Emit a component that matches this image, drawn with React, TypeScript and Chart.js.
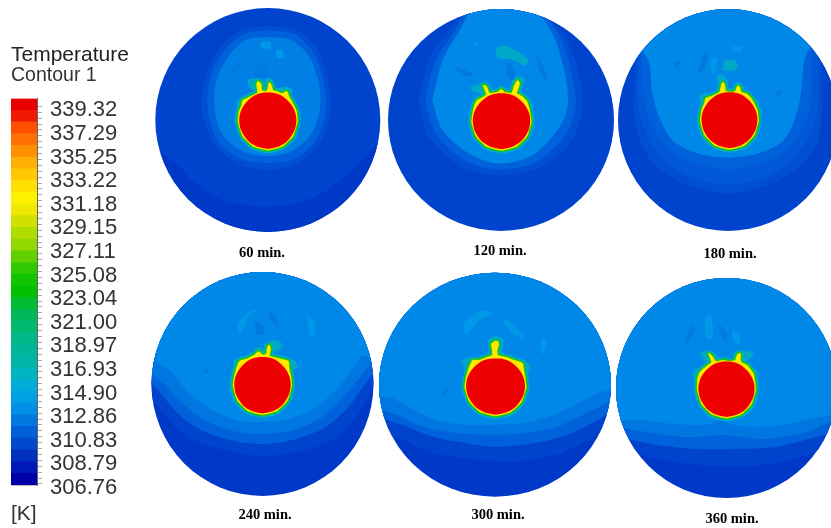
import React, { useEffect, useRef } from "react";
import { Chart, registerables } from "chart.js";

Chart.register(...registerables);

type P = [number, number];

// ---------- colour scale ----------
const tickLabels = ["339.32","337.29","335.25","333.22","331.18","329.15","327.11","325.08","323.04","321.00","318.97","316.93","314.90","312.86","310.83","308.79","306.76"];
const bandEdges = [306.67,307.68,308.69,309.70,310.71,311.72,312.73,313.74,314.75,315.76,316.77,317.78,318.79,319.80,320.81,321.82,322.83,323.84,324.85,325.86,326.87,327.88,328.89,329.90,330.91,331.92,332.93,333.94,334.95,335.96,336.97,337.98,338.99,340.00];
const bandColors = ["#0000a8","#0018b8","#0030c0","#0048cc","#0060d8","#0078e0","#0090e8","#00a0e4","#00acd8","#00b4c0","#00b4a8","#00b698","#00b888","#00b870","#00b85c","#00bc30","#00c000","#10c400","#30c800","#60d000","#90d800","#b0dc00","#d0e000","#f0e800","#fff000","#ffe000","#ffc800","#ffb000","#ff9000","#ff7000","#ff5000","#f01800","#e80000"];

// ---------- field colours ----------
const cDeep = "#0038c8", cBase = "#0044ce", cL1 = "#004ed2", cL2 = "#0062da", cL3 = "#0076e0", cL4 = "#0088e8";
const cWispD = "#007ae0", cWispL = "#0098e8", cTeal = "#00a8c8";

// ---------- whole disc ----------
const fieldSquare: P[] = [[-130,-130],[130,-130],[130,130],[-130,130]];

// ---------- 60 min ----------
const p1Deep: P[] = [[-125,33],[-107,33],[-92,43],[-72,63],[-49,78],[-22,85],[1,87],[28,83],[54,73],[81,53],[101,33],[111,22],[125,22],[125,125],[-125,125]];
const p1Ring1: P[] = [[-1,-94],[28,-90],[48,-73],[59,-43],[63,-13],[54,20],[31,43],[1,50],[-32,43],[-56,20],[-66,-13],[-62,-43],[-47,-73],[-26,-90]];
const p1Ring2: P[] = [[-1,-90],[26,-86],[44,-70],[55,-42],[58,-13],[50,17],[28,38],[1,43],[-30,38],[-52,17],[-60,-13],[-57,-43],[-43,-70],[-24,-86]];
const p1Ring3: P[] = [[0,-83],[23,-80],[40,-65],[50,-40],[52,-13],[44,13],[24,31],[0,36],[-26,31],[-46,13],[-53,-13],[-51,-40],[-38,-65],[-22,-80]];
const p1WispsD: P[][] = [[[-14,-48],[-6,-56],[0,-52],[-2,-44],[-10,-42]],[[-38,-50],[-30,-58],[-28,-55],[-36,-46]],[[17,-28],[24,-26],[24,-22],[18,-24]]];
const p1WispsL: P[][] = [[[-7,-78],[2,-78],[3,-72],[-6,-72]],[[8,-70],[14,-70],[16,-62],[10,-62]]];
const p1Blobs: P[][] = [[[-20,-41],[-16,-42],[-11,-41],[-10,-34],[-14,-30],[-19,-34]],[[-3,-42],[3,-42],[4,-36],[0,-32],[-3,-36]],[[8,-31],[18,-34],[25,-30],[21,-26],[12,-28]],[[-31,-19],[-26,-23],[-24,-16],[-30,-11]]];
const p1Hot: P[] = [[-28.5,-9],[-26,-15],[-25,-20],[-19,-23],[-13,-26],[-10,-28],[-11,-36],[-10,-39],[-7,-37],[-6,-30],[-2,-29],[0,-31],[1,-37],[2,-38],[4,-34],[5,-30],[9,-29],[14,-27],[19,-29],[21,-24],[26,-15],[28.5,-9]];

// ---------- 120 min ----------
const p2Ring1: P[] = [[-82,-20],[-72,-60],[-52,-90],[-36,-107],[0,-125],[41,-107],[64,-83],[78,-43],[81,-13],[71,20],[41,47],[0,56],[-39,47],[-72,17]];
const p2Ring2: P[] = [[-75,-20],[-65,-60],[-46,-90],[-32,-110],[0,-125],[38,-110],[58,-85],[71,-43],[74,-13],[64,15],[37,41],[0,50],[-35,41],[-65,13]];
const p2Ring3: P[] = [[-68,-20],[-58,-60],[-40,-92],[-26,-115],[0,-125],[30,-115],[52,-85],[64,-43],[66,-13],[56,10],[32,35],[0,44],[-30,35],[-58,10]];
const p2WispsD: P[][] = [[[-44,-54],[-34,-50],[-28,-46],[-34,-44],[-44,-50]],[[8,-60],[14,-48],[12,-38],[6,-46]],[[34,-70],[44,-50],[46,-38],[38,-50]]];
const p2WispsL: P[][] = [[[-26,-80],[-22,-78],[-26,-74]]];
const p2Blobs: P[][] = [[[-32,-34],[-22,-37],[-14,-35],[-14,-28],[-27,-29]],[[9,-37],[14,-44],[22,-44],[22,-38],[16,-29]],[[22,-24],[29,-22],[29,-13],[24,-13]],[[-6,-74],[4,-76],[16,-70],[26,-62],[24,-56],[10,-62],[-4,-64]]];
const p2Hot: P[] = [[-27,-15],[-24,-21],[-18,-24],[-15,-27],[-17,-33],[-18,-36],[-15,-35],[-12,-28],[-4,-29],[0,-32],[3,-29],[10,-28],[13,-36],[16,-41],[18,-38],[15,-28],[20,-25],[25,-20],[27.5,-12]];

// ---------- 180 min ----------
const p3Ring0: P[] = [[-125,-125],[-96,-70],[-95,-40],[-96,-10],[-90,20],[-72,48],[-40,66],[0,74],[40,66],[72,48],[92,20],[96,-15],[96,-50],[92,-80],[125,-125]];
const p3Ring1: P[] = [[-125,-125],[-93,-70],[-92,-45],[-92,-15],[-84,12],[-68,37],[-38,58],[0,65],[38,58],[68,37],[85,12],[92,-15],[93,-50],[90,-75],[125,-125]];
const p3Ring2: P[] = [[-125,-125],[-90,-70],[-88,-50],[-85,-20],[-77,5],[-62,28],[-35,43],[0,50],[35,43],[62,28],[78,3],[85,-20],[85,-55],[87,-75],[125,-125]];
const p3Ring3: P[] = [[-125,-125],[-87,-70],[-80,-57],[-77,-27],[-70,-3],[-57,20],[-33,33],[0,38],[33,33],[57,20],[70,-7],[75,-33],[77,-57],[83,-72],[125,-125]];
const p3WispsD: P[][] = [[[-56,-58],[-48,-60],[-52,-52]],[[48,-28],[56,-30],[52,-24]],[[-24,-70],[-20,-64],[-28,-46],[-30,-50]]];
const p3WispsL: P[][] = [[[-18,-62],[-12,-62],[-12,-50],[-16,-48]],[[4,-74],[14,-74],[14,-70],[6,-70]]];
const p3Blobs: P[][] = [[[-13,-45],[-6,-45],[-3,-38],[-4,-30],[-11,-34]],[[5,-35],[12,-37],[15,-30],[8,-28]],[[-31,-25],[-24,-27],[-20,-22],[-29,-17]],[[20,-24],[29,-20],[29,-13],[24,-15]],[[-6,-60],[6,-60],[8,-52],[-6,-50]]];
const p3Hot: P[] = [[-28,-10],[-25,-18],[-24,-22],[-18,-24],[-10,-28],[-8,-36],[-7,-38],[-5,-36],[-4,-29],[2,-28],[6,-29],[8,-34],[10,-34],[12,-28],[18,-26],[22,-22],[26,-15],[28.5,-9]];

// ---------- 240 min ----------
const p4Ring1: P[] = [[-125,-125],[-125,-8],[-112,0],[-102,10],[-85,30],[-60,47],[-28,57],[0,60],[30,56],[62,44],[85,25],[100,5],[112,-10],[125,-20],[125,-125]];
const p4Ring0: P[] = [[-125,-125],[-125,15],[-113,15],[-100,30],[-80,50],[-50,63],[0,72],[50,64],[80,50],[100,25],[113,0],[125,0],[125,-125]];
const p4Ring2: P[] = [[-125,-125],[-125,-18],[-112,-10],[-100,0],[-80,20],[-55,38],[-25,48],[0,50],[27,47],[57,35],[80,15],[97,-5],[110,-20],[125,-26],[125,-125]];
const p4Ring3: P[] = [[-125,-125],[-125,-28],[-109,-23],[-93,-13],[-73,10],[-49,27],[-23,37],[1,38],[27,35],[54,23],[77,3],[94,-20],[101,-28],[110,-27],[125,-30],[125,-125]];
const p4WispsD: P[][] = [[[-8,-62],[0,-60],[2,-50],[-6,-50]],[[8,-74],[16,-62],[14,-58],[6,-68]],[[-60,-14],[-54,-16],[-56,-10]]];
const p4WispsL: P[][] = [[[-26,-60],[-14,-72],[-6,-74],[-16,-64],[-22,-50]],[[44,-72],[52,-60],[50,-44],[46,-60]]];
const p4Blobs: P[][] = [[[3,-41],[12,-45],[21,-40],[16,-34],[8,-34]],[[-8,-37],[0,-37],[2,-32],[-8,-30]],[[22,-28],[33,-24],[35,-17],[26,-17]],[[-29,-25],[-22,-27],[-20,-22],[-29,-15]]];
const p4Hot: P[] = [[-28,-10],[-25,-20],[-23,-24],[-16,-26],[-8,-30],[-5,-33],[-3,-33],[0,-30],[4,-31],[5,-38],[7,-40],[8,-36],[7,-29],[14,-27],[22,-25],[26,-24],[27,-15],[28.5,-9]];

// ---------- 300 min ----------
const p5Ring0: P[] = [[-125,-125],[-125,45],[-116,45],[-90,55],[-60,68],[-20,75],[20,77],[60,70],[90,55],[116,40],[125,38],[125,-125]];
const p5Ring1: P[] = [[-125,-125],[-125,32],[-116,32],[-90,40],[-60,52],[-30,58],[0,62],[40,58],[70,50],[100,35],[116,25],[125,24],[125,-125]];
const p5Ring2: P[] = [[-125,-125],[-125,25],[-116,25],[-95,30],[-70,42],[-40,48],[0,50],[30,48],[60,42],[85,30],[116,15],[125,14],[125,-125]];
const p5Ring3: P[] = [[-125,-125],[-125,12],[-115,12],[-100,13],[-83,23],[-57,35],[-30,40],[-2,40],[27,38],[57,30],[83,17],[103,7],[116,5],[125,4],[125,-125]];
const p5WispsD: P[][] = [[[-52,8],[-46,2],[-44,4],[-50,12]]];
const p5WispsL: P[][] = [[[-30,-62],[-14,-74],[-2,-72],[-16,-64],[-28,-50]],[[6,-68],[20,-58],[28,-46],[16,-52]],[[46,-48],[50,-44],[46,-30],[44,-36]]];
const p5Blobs: P[][] = [[[-7,-47],[0,-50],[7,-47],[7,-38],[4,-32],[-4,-32],[-7,-38]],[[-33,-26],[-24,-29],[-18,-24],[-29,-18]],[[22,-27],[33,-22],[31,-13],[24,-15]]];
const p5Hot: P[] = [[-28,-10],[-25,-20],[-22,-26],[-16,-26],[-8,-29],[-3,-31],[-3,-37],[-4,-42],[-1,-45],[2,-45],[3,-42],[1.5,-36],[2,-31],[10,-29],[18,-26],[26,-23],[27,-17],[28.5,-9]];

// ---------- 360 min ----------
const p6Ring0: P[] = [[-125,-125],[-125,58],[-110,60],[-70,72],[-30,78],[10,80],[50,76],[90,65],[115,52],[125,50],[125,-125]];
const p6Ring1: P[] = [[-125,-125],[-125,48],[-110,50],[-70,58],[-30,62],[10,62],[50,60],[90,50],[115,42],[125,40],[125,-125]];
const p6Ring2: P[] = [[-125,-125],[-125,38],[-110,40],[-80,45],[-40,50],[0,48],[40,52],[80,45],[110,33],[125,32],[125,-125]];
const p6Ring3: P[] = [[-125,-125],[-125,33],[-107,33],[-83,33],[-50,37],[-17,37],[-7,33],[3,37],[33,40],[70,35],[97,29],[115,27],[125,26],[125,-125]];
const p6WispsD: P[][] = [[[-8,-66],[0,-56],[0,-46],[-6,-54]],[[-36,-64],[-32,-60],[-40,-44],[-42,-48]]];
const p6WispsL: P[][] = [[[-22,-70],[-16,-74],[-14,-52],[-20,-50]],[[6,-60],[14,-52],[12,-44],[6,-50]]];
const p6Blobs: P[][] = [[[-27,-37],[-16,-39],[-11,-34],[-14,-27],[-23,-30]],[[9,-37],[16,-39],[27,-37],[23,-30],[14,-28]],[[-35,-16],[-28,-21],[-24,-16],[-31,-9]],[[22,-24],[31,-18],[29,-9],[24,-13]]];
const p6Hot: P[] = [[-29,-12],[-26,-18],[-19,-24],[-15,-27],[-17,-33],[-18,-36],[-15,-34],[-11,-28],[-3,-29],[3,-28],[9,-29],[11,-35],[14,-36],[14,-31],[15,-27],[21,-24],[27,-16],[28.5,-9]];

// ---------- shared heater outline ----------
const hotLower: P[] = [[29.5,1],[25,15.5],[15,25.5],[0,29.5],[-15,25.5],[-25,15.5],[-29.5,1]];
const redCore: P[] = [[0,28.5],[-11,26],[-20,20],[-26.5,10],[-28.5,0],[-27,-9],[-22.5,-17],[-15,-24],[-6,-27.5],[6,-27.5],[15,-24],[22.5,-17],[27,-9],[28.5,0],[26.5,10],[20,20],[11,26]];

const captions = ["60 min.","120 min.","180 min.","240 min.","300 min.","360 min."];

type Layer = { pts: P[]; color: string; width?: number; tension?: number };
type Panel = { cx: number; cy: number; rx: number; ry: number; capX: number; capY: number; sx: number; sy: number;
  back: string; rings: [P[], string][]; wD: P[][]; wL: P[][]; blobs: P[][]; hot: P[] };

const panels: Panel[] = [
  { cx: 267.5, cy: 120, rx: 112.5, ry: 112, capX: 261.7, capY: 253, sx: 0, sy: 0.5, back: cBase,
    rings: [[p1Deep, cDeep],[p1Ring1, cL1],[p1Ring2, cL2],[p1Ring3, "#0080e4"]], wD: p1WispsD, wL: p1WispsL, blobs: p1Blobs, hot: p1Hot },
  { cx: 501, cy: 120, rx: 113, ry: 111, capX: 500, capY: 251, sx: 0.5, sy: 1, back: cBase,
    rings: [[p2Ring1, cL1],[p2Ring2, cL2],[p2Ring3, cL4]], wD: p2WispsD, wL: p2WispsL, blobs: p2Blobs, hot: p2Hot },
  { cx: 728, cy: 120, rx: 110, ry: 111, capX: 730, capY: 254, sx: 1.5, sy: 0, back: cBase,
    rings: [[p3Ring0, cL1],[p3Ring1, "#0058d6"],[p3Ring2, cL2],[p3Ring3, cL4]], wD: p3WispsD, wL: p3WispsL, blobs: p3Blobs, hot: p3Hot },
  { cx: 262.5, cy: 384, rx: 111, ry: 112, capX: 265, capY: 515, sx: 0, sy: 1, back: cDeep,
    rings: [[p4Ring0, cBase],[p4Ring1, cL2],[p4Ring2, cL3],[p4Ring3, cL4]], wD: p4WispsD, wL: p4WispsL, blobs: p4Blobs, hot: p4Hot },
  { cx: 495, cy: 384.5, rx: 116, ry: 112, capX: 498, capY: 515, sx: 0.5, sy: 1.5, back: cDeep,
    rings: [[p5Ring0, cBase],[p5Ring1, cL2],[p5Ring2, cL3],[p5Ring3, cL4]], wD: p5WispsD, wL: p5WispsL, blobs: p5Blobs, hot: p5Hot },
  { cx: 726.5, cy: 388, rx: 110.5, ry: 110, capX: 732, capY: 519, sx: 0, sy: 1, back: cDeep,
    rings: [[p6Ring0, cBase],[p6Ring1, cL2],[p6Ring2, cL3],[p6Ring3, cL4]], wD: p6WispsD, wL: p6WispsL, blobs: p6Blobs, hot: p6Hot },
];

const PANEL_W = 250;
const CAP_H = 14;

function toData(pts: P[], dx = 0, dy = 0) {
  const d = pts.map(([x, y]) => ({ x: x + dx, y: y + dy }));
  d.push({ ...d[0] });
  return d;
}

function layerDataset(l: Layer, order: number, dx = 0, dy = 0) {
  return {
    type: "scatter" as const,
    data: toData(l.pts, dx, dy),
    showLine: true,
    fill: "shape",
    backgroundColor: l.color,
    borderColor: l.width ? l.color : "transparent",
    borderWidth: l.width ?? 0,
    borderJoinStyle: "round" as const,
    pointRadius: 0,
    tension: l.tension ?? 0.3,
    order,
  };
}

function panelLayers(p: Panel) {
  const out: { l: Layer; dx: number; dy: number }[] = [];
  const add = (l: Layer, dx = 0, dy = 0) => out.push({ l, dx, dy });
  add({ pts: fieldSquare, color: p.back, tension: 0 });
  p.rings.forEach(([pts, color]) => add({ pts, color }));
  p.wD.forEach((pts) => add({ pts, color: cWispD }));
  p.wL.forEach((pts) => add({ pts, color: cWispL }));
  p.blobs.forEach((pts) => add({ pts, color: cTeal }, p.sx, p.sy));
  const hot = [...hotLower, ...p.hot];
  add({ pts: hot, color: "#00a8d8", width: 7, tension: 0.15 }, p.sx, p.sy);
  add({ pts: hot, color: "#00b880", width: 5, tension: 0.15 }, p.sx, p.sy);
  add({ pts: hot, color: "#20c400", width: 3, tension: 0.15 }, p.sx, p.sy);
  add({ pts: hot, color: "#c8dc00", width: 1, tension: 0.15 }, p.sx, p.sy);
  add({ pts: hot, color: "#ffe800", tension: 0.15 }, p.sx, p.sy);
  add({ pts: redCore, color: "#ee0000", tension: 0.3 }, p.sx, p.sy);
  return out;
}

function DiscPanel({ index }: { index: number }) {
  const ref = useRef<HTMLCanvasElement>(null);
  const p = panels[index];
  const left = p.capX - PANEL_W / 2;
  const top = p.cy - p.ry - 4;
  const height = p.capY + CAP_H / 2 - top;
  useEffect(() => {
    const kx = p.rx / 112;
    const ky = p.ry / 112;
    const layers = panelLayers(p);
    const n = layers.length;
    const clipDisc = {
      id: "clipDisc",
      beforeDatasetsDraw(chart: any) {
        const { ctx, scales } = chart;
        ctx.save();
        ctx.beginPath();
        ctx.ellipse(scales.x.getPixelForValue(0), scales.y.getPixelForValue(0), p.rx, p.ry, 0, 0, Math.PI * 2);
        ctx.clip();
      },
      afterDatasetsDraw(chart: any) {
        chart.ctx.restore();
      },
    };
    const chart = new Chart(ref.current!, {
      type: "scatter",
      data: { datasets: layers.map((e, i) => layerDataset(e.l, n - i, e.dx, e.dy)) as any },
      options: {
        animation: false,
        responsive: false,
        devicePixelRatio: 1,
        events: [],
        layout: { padding: 0 },
        scales: {
          x: { type: "linear", display: false, min: (left - p.cx) / kx, max: (left + PANEL_W - p.cx) / kx },
          y: { type: "linear", display: false, reverse: true, min: (top - p.cy) / ky, max: (p.capY - CAP_H / 2 - p.cy) / ky },
        },
        plugins: {
          legend: { display: false },
          tooltip: { enabled: false },
          title: {
            display: true,
            position: "bottom",
            text: captions[index],
            color: "#000",
            padding: 0,
            font: { family: "'Liberation Serif', serif", weight: "bold", size: 14.5, lineHeight: CAP_H / 14.5 },
          },
        },
      } as any,
      plugins: [clipDisc as any],
    });
    return () => chart.destroy();
  }, []);
  return (
    <canvas
      ref={ref}
      width={PANEL_W}
      height={height}
      style={{ position: "absolute", left, top, width: PANEL_W, height, filter: "blur(0.7px)" }}
    />
  );
}

function ColorBar() {
  const ref = useRef<HTMLCanvasElement>(null);
  useEffect(() => {
    const majors = tickLabels.map(Number);
    const allTicks: { value: number }[] = [];
    majors.forEach((m, i) => {
      allTicks.push({ value: m });
      if (i < majors.length - 1) {
        const step = (majors[i + 1] - m) / 4;
        allTicks.push({ value: m + step }, { value: m + 2 * step }, { value: m + 3 * step });
      }
    });
    const chart = new Chart(ref.current!, {
      type: "bar",
      data: {
        labels: ["Temperature"],
        datasets: bandColors.map((c, i) => ({
          data: [[bandEdges[i], bandEdges[i + 1]]],
          backgroundColor: c,
          borderWidth: 0,
          grouped: false,
          barPercentage: 1,
          categoryPercentage: 1,
        })) as any,
      },
      options: {
        animation: false,
        responsive: false,
        devicePixelRatio: 1,
        events: [],
        layout: { padding: { left: 11, top: 45, bottom: 3.5, right: 0 } },
        scales: {
          x: {
            display: true,
            grid: { display: false },
            border: { display: true, color: "#c8b8b8" },
            ticks: { display: false },
            title: {
              display: true,
              text: "[K]",
              align: "start",
              color: "#333",
              padding: { top: 10.5, bottom: 0 },
              font: { family: "'Liberation Sans', sans-serif", size: 21, lineHeight: 1 },
            },
          },
          y: {
            position: "right",
            min: 306.67,
            max: 340,
            afterBuildTicks(s: any) { s.ticks = allTicks.map((t) => ({ ...t })); },
            afterFit(s: any) { s.width = 113; },
            grid: { drawOnChartArea: false, tickLength: 5, color: "#aaa" },
            border: { color: "#666" },
            ticks: {
              autoSkip: false,
              padding: 8,
              labelOffset: 4,
              color: "#333",
              font: { family: "'Liberation Sans', sans-serif", size: 22, lineHeight: 1 },
              callback(v: any) {
                const i = majors.indexOf(v);
                return i >= 0 ? tickLabels[i] : "";
              },
            },
          },
        },
        plugins: {
          legend: { display: false },
          tooltip: { enabled: false },
          title: {
            display: true, text: "Temperature", align: "start", color: "#222", padding: 0,
            font: { family: "'Liberation Sans', sans-serif", size: 21, weight: "normal", lineHeight: 1 },
          },
          subtitle: {
            display: true, text: "Contour 1", align: "start", color: "#333", padding: { top: 0, bottom: 13 },
            font: { family: "'Liberation Sans', sans-serif", size: 19.5, weight: "normal", lineHeight: 1 },
          },
        },
      } as any,
    });
    return () => chart.destroy();
  }, []);
  return (
    <canvas
      ref={ref}
      width={150}
      height={528}
      style={{ position: "absolute", left: 0, top: 0, width: 150, height: 528, filter: "blur(0.6px)" }}
    />
  );
}

export default function App() {
  return (
    <div style={{ position: "fixed", left: 0, top: 0, width: 831, height: 528, overflow: "hidden", background: "#fff" }}>
      {panels.map((_, i) => <DiscPanel key={i} index={i} />)}
      <ColorBar />
    </div>
  );
}
